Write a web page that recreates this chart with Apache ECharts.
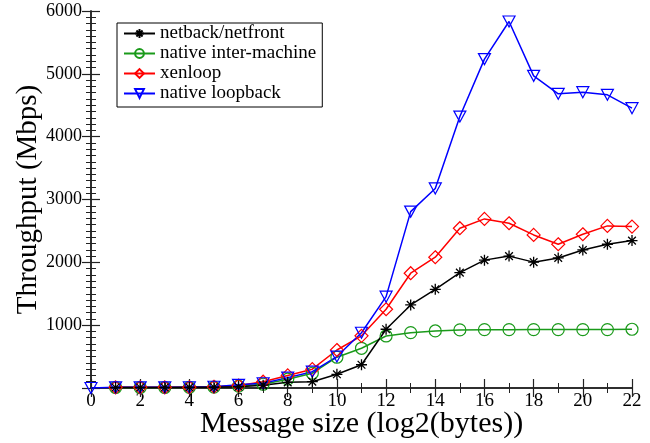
<!DOCTYPE html>
<html><head><meta charset="utf-8">
<script src="https://cdn.jsdelivr.net/npm/echarts@6/dist/echarts.min.js"></script>
<style>html,body{margin:0;padding:0;background:#fff}#c{width:650px;height:443px}</style>
</head><body><div id="c"></div>
<script>
const msgSize = [0,1,2,3,4,5,6,7,8,9,10,11,12,13,14,15,16,17,18,19,20,21,22];
const netback = [null,8,8,8,10,12,20,45,90,100,218,370,935,1322,1571,1836,2035,2099,2003,2070,2197,2288,2346];
const interMachine = [null,8,8,8,10,15,30,60,140,235,490,632,828,881,908,924,928,929,930,930,930,930,935];
const xenloop = [null,10,10,10,12,20,40,100,200,300,605,830,1253,1827,2081,2543,2691,2622,2436,2288,2447,2580,2569];
const loopback = [0,10,10,10,12,20,50,75,165,260,500,880,1454,2807,3176,4320,5234,5833,4968,4682,4708,4666,4454];
const seriesNames = ['netback/netfront','native inter-machine','xenloop','native loopback'];
const xTicks = {min:0, max:22, interval:2};
const yTicks = {min:0, max:6000, interval:1000};

const font = 'Liberation Serif';
const asterisk = 'path://M0,-10 L0,10 M-10,0 L10,0 M-7,-7 L7,7 M-7,7 L7,-7';
function pairs(arr){ return msgSize.map((x,i)=>[x,arr[i]]).filter(p=>p[1]!==null); }
const chart = echarts.init(document.getElementById('c'));
const axLine = {show:true,lineStyle:{color:'#222',width:1.5}};
const axTick = {show:true,inside:true,length:9,lineStyle:{color:'#222',width:1.2}};
function minor(n){ return {show:true,splitNumber:n,length:5,lineStyle:{color:'#222',width:1}}; }
chart.setOption({
  animation:false,
  backgroundColor:'#fff',
  grid:{left:91,right:18,top:11,bottom:55,containLabel:false,outerBoundsMode:'none'},
  legend:{
    data:seriesNames, orient:'vertical', left:117, top:23,
    borderColor:'#000', borderWidth:1, padding:[1,6,4,6],
    itemWidth:31, itemHeight:11, itemGap:1,
    textStyle:{fontFamily:font,fontSize:19,color:'#000'}
  },
  xAxis:[
    {type:'value',position:'bottom',min:xTicks.min,max:xTicks.max,interval:xTicks.interval,
      name:'Message size (log2(bytes))',nameLocation:'middle',nameGap:21,nameMoveOverlap:false,
      nameTextStyle:{fontFamily:font,fontSize:30,color:'#000'},
      axisLabel:{fontFamily:font,fontSize:19,color:'#000',margin:4},
      axisLine:axLine,axisTick:axTick,minorTick:minor(2),splitLine:{show:false}},
    {type:'value',position:'top',min:xTicks.min,max:xTicks.max,interval:xTicks.interval,
      axisLine:axLine,axisTick:axTick,axisLabel:{show:false},minorTick:minor(2),splitLine:{show:false}}
  ],
  yAxis:[
    {type:'value',position:'left',min:yTicks.min,max:yTicks.max,interval:yTicks.interval,
      name:'Throughput (Mbps)',nameLocation:'middle',nameGap:48,nameMoveOverlap:false,
      nameTextStyle:{fontFamily:font,fontSize:29,color:'#000'},
      axisLabel:{fontFamily:font,fontSize:18,color:'#000',margin:9,formatter:v=>v===0?'':String(v)},
      axisLine:axLine,axisTick:axTick,minorTick:minor(10),splitLine:{show:false}},
    {type:'value',position:'right',min:yTicks.min,max:yTicks.max,interval:yTicks.interval,
      axisLabel:{show:false},axisLine:axLine,axisTick:axTick,minorTick:minor(10),splitLine:{show:false}}
  ],
  series:[
    {name:seriesNames[1],type:'line',data:pairs(interMachine),symbol:'circle',symbolSize:12,
      lineStyle:{color:'#1a9a1a',width:1.5},itemStyle:{color:'transparent',borderColor:'#1a9a1a',borderWidth:1.2},color:'#1a9a1a'},
    {name:seriesNames[2],type:'line',data:pairs(xenloop),symbol:'diamond',symbolSize:[13,13],
      lineStyle:{color:'#ff0000',width:1.5},itemStyle:{color:'transparent',borderColor:'#ff0000',borderWidth:1.2},color:'#ff0000'},
    {name:seriesNames[3],type:'line',data:pairs(loopback),symbol:'triangle',symbolRotate:180,symbolSize:[12,11],
      lineStyle:{color:'#0000ff',width:1.5},itemStyle:{color:'transparent',borderColor:'#0000ff',borderWidth:1.2},color:'#0000ff'},
    {name:seriesNames[0],type:'line',data:pairs(netback),symbol:asterisk,symbolSize:11,
      lineStyle:{color:'#000',width:1.5},itemStyle:{color:'transparent',borderColor:'#000',borderWidth:1.3},color:'#000'}
  ]
});
</script></body></html>
